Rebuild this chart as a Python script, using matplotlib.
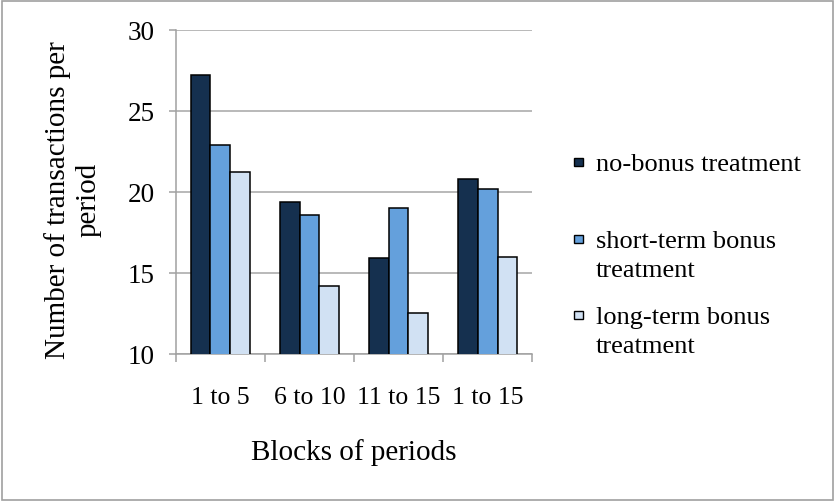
import numpy as np
import matplotlib.pyplot as plt
from matplotlib.patches import Rectangle

# values
blocks = ["1 to 5", "6 to 10", "11 to 15", "1 to 15"]
no_bonus = [27.2, 19.4, 15.9, 20.8]
short_term = [22.9, 18.6, 19.0, 20.2]
long_term = [21.2, 14.2, 12.5, 16.0]

series_labels = ["no-bonus treatment",
                 "short-term bonus\ntreatment",
                 "long-term bonus\ntreatment"]
colors = ["#15304F", "#64A0DC", "#D1E1F3"]

plt.rcParams['font.family'] = ['Liberation Serif', 'DejaVu Serif']

W, H = 834, 502
fig = plt.figure(figsize=(W / 100, H / 100), dpi=100)
ax = fig.add_axes([175.7 / W, 1 - 355 / H, (532.3 - 175.7) / W, (355 - 30.7) / H])

x = np.arange(len(blocks))
width = 1 / 4.5
for i, vals in enumerate([no_bonus, short_term, long_term]):
    ax.bar(x + (i - 1) * width, vals, width, bottom=0, color=colors[i],
           edgecolor="black", linewidth=1.1, zorder=3)

ax.set_ylim(10, 30)
ax.set_xlim(-0.5, len(blocks) - 0.5)
ax.set_yticks([10, 15, 20, 25, 30])
ax.tick_params(axis='y', labelsize=19.5, length=5, width=1.1, color="#A0A0A0", pad=10)

# category boundaries as ticks, labels at centres
ax.set_xticks(np.arange(len(blocks) + 1) - 0.5)
ax.set_xticklabels([])
ax.set_xticks(x, minor=True)
ax.set_xticklabels(blocks, minor=True)
ax.tick_params(axis='x', which='major', length=6, width=1.1, color="#A0A0A0")
ax.tick_params(axis='x', which='minor', length=0, labelsize=18.5, pad=23)

ax.grid(axis='y', color="#A6A6A6", linewidth=1.1, zorder=0)
for s in ["top", "right"]:
    ax.spines[s].set_visible(False)
for s in ["left", "bottom"]:
    ax.spines[s].set_color("#A0A0A0")
    ax.spines[s].set_linewidth(1.1)

ax.set_xlabel("Blocks of periods", fontsize=21, labelpad=22)
fig.text(73 / W, 1 - 200 / H, "Number of transactions per\nperiod", fontsize=21,
         rotation=90, ha='center', va='center', linespacing=1.25)

# legend, drawn by hand so the keys sit on the first line
legend_y = [163, 240, 316]
for lab, col, yy in zip(series_labels, colors, legend_y):
    fig.add_artist(Rectangle((574 / W, 1 - (yy + 4) / H), 8.5 / W, 8.5 / H,
                             facecolor=col, edgecolor="black", linewidth=1.0,
                             transform=fig.transFigure))
    fig.text(596 / W, 1 - (yy - 9) / H, lab, fontsize=19, ha='left', va='top',
             linespacing=1.4)

# outer frame
fig.add_artist(Rectangle((1.5 / W, 1.5 / H), (W - 3) / W, (H - 3) / H, fill=False,
                         edgecolor="#A0A0A0", linewidth=1.2, transform=fig.transFigure))

fig.savefig("out.png", dpi=100)
